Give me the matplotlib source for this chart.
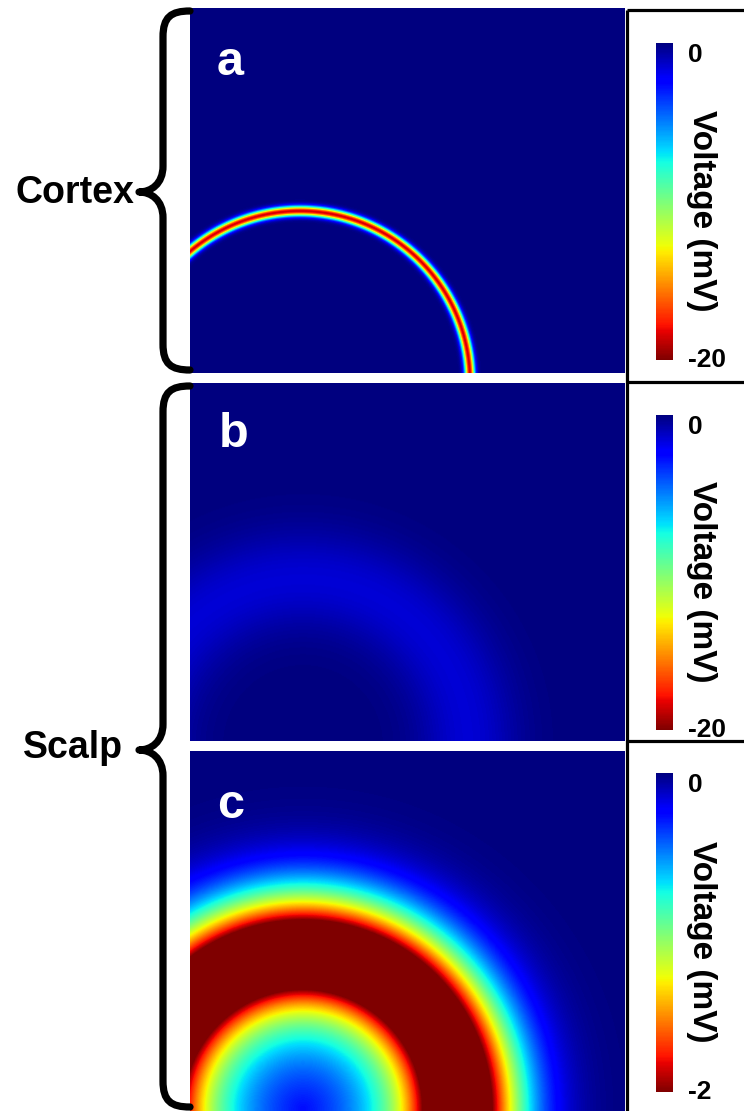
import numpy as np
import matplotlib
matplotlib.use("Agg")
import matplotlib.pyplot as plt
from matplotlib.path import Path
from matplotlib.patches import PathPatch

plt.rcParams['font.family'] = ['Liberation Sans', 'DejaVu Sans']
plt.rcParams['font.weight'] = 'bold'

# ---------------- data ----------------
panel_labels = ['a', 'b', 'c']
region_labels = ['Cortex', 'Scalp']
cbar_title = 'Voltage (mV)'
cbar_vmin = [-20, -20, -2]
cbar_vmax = [0, 0, 0]
cbar_ticklabels = [['-20', '0'], ['-20', '0'], ['-2', '0']]

# ring-shaped voltage field parameters (panel pixel units, origin bottom-left)
ring_center_x = [110, 113, 113]
ring_center_y = [-8, -4, 2]
ring_radius = [170, 165, 155]
ring_peak_mV = [18.5, 1.5, 3.1]
ring_inner_width = [3.5, 35, 48]
ring_outer_width = [3.5, 35, 56.6]
ring_inner_shape = ['gauss', 'gauss', 'lorentz']
ring_outer_power = [2.0, 2.0, 1.65]

# ---------------- layout (figure pixels, top-left origin) ----------------
W, H = 744, 1111
panel_px = [(190, 8, 625, 373), (190, 383, 625, 741), (190, 751, 625, 1111)]
cbar_px = [(656, 43, 673, 360), (656, 415, 673, 730), (656, 773, 673, 1092)]
label_pos = [(217, 75), (219, 447), (217, 818)]

fig = plt.figure(figsize=(W / 100, H / 100), dpi=100)


def ax_px(x0, y0, x1, y1):
    return fig.add_axes([x0 / W, 1 - y1 / H, (x1 - x0) / W, (y1 - y0) / H])


def field(i, w, h):
    x = np.arange(w) + 0.5
    y = np.arange(h) + 0.5
    X, Y = np.meshgrid(x, y)
    r = np.hypot(X - ring_center_x[i], Y - ring_center_y[i])
    d = r - ring_radius[i]
    A = ring_peak_mV[i]
    p = ring_outer_power[i]
    if p == 2.0:
        outer = A * np.exp(-d ** 2 / (2 * ring_outer_width[i] ** 2))
    else:
        outer = A * np.exp(-(np.abs(d) / ring_outer_width[i]) ** p)
    if ring_inner_shape[i] == 'lorentz':
        inner = A / (1 + (d / ring_inner_width[i]) ** 2)
    else:
        inner = A * np.exp(-d ** 2 / (2 * ring_inner_width[i] ** 2))
    return -np.where(d < 0, inner, outer)


for i in range(3):
    x0, y0, x1, y1 = panel_px[i]
    ax = ax_px(x0, y0, x1, y1)
    w, h = x1 - x0, y1 - y0
    V = field(i, w, h)
    im = ax.imshow(V, cmap='jet_r', vmin=cbar_vmin[i], vmax=cbar_vmax[i],
                   origin='lower', extent=(0, w, 0, h), aspect='auto',
                   interpolation='bilinear')
    ax.set_axis_off()

    cx0, cy0, cx1, cy1 = cbar_px[i]
    cax = ax_px(cx0, cy0, cx1, cy1)
    cb = fig.colorbar(im, cax=cax, ticks=[cbar_vmin[i], cbar_vmax[i]])
    cb.set_ticklabels(cbar_ticklabels[i])
    cb.outline.set_visible(False)
    cax.tick_params(length=0, pad=10.5, labelsize=19)
    tl = cax.get_yticklabels()
    tl[1].set_va('top')
    tl[0].set_va('center')

# ---------------- overlay: labels, braces, frames ----------------
ov = fig.add_axes([0, 0, 1, 1])
ov.set_xlim(0, W)
ov.set_ylim(H, 0)
ov.set_axis_off()
ov.patch.set_alpha(0)

for i in range(3):
    lx, ly = label_pos[i]
    ov.text(lx, ly, panel_labels[i], color='white', fontsize=35,
            fontweight='bold', ha='left', va='baseline')
    cx0, cy0, cx1, cy1 = cbar_px[i]
    ov.text(701, (cy0 + cy1) / 2 + 9, cbar_title, rotation=270, fontsize=24,
            fontweight='bold', ha='center', va='center')

ov.text(134, 203, region_labels[0], fontsize=27, fontweight='bold',
        ha='right', va='baseline')
ov.text(123, 758, region_labels[1], fontsize=27, fontweight='bold',
        ha='right', va='baseline')


def brace(xe, yt, yb, xs, xtip, ytip, c=26, lw=5.2):
    verts = [(xe, yt),
             (xs + 8, yt), (xs, yt + 6), (xs, yt + c),
             (xs, ytip - c),
             (xs, ytip - 8), (xtip + 12, ytip), (xtip, ytip),
             (xtip + 12, ytip), (xs, ytip + 8), (xs, ytip + c),
             (xs, yb - c),
             (xs, yb - 6), (xs + 8, yb), (xe, yb)]
    codes = [Path.MOVETO,
             Path.CURVE4, Path.CURVE4, Path.CURVE4,
             Path.LINETO,
             Path.CURVE4, Path.CURVE4, Path.CURVE4,
             Path.CURVE4, Path.CURVE4, Path.CURVE4,
             Path.LINETO,
             Path.CURVE4, Path.CURVE4, Path.CURVE4]
    ov.add_patch(PathPatch(Path(verts, codes), fill=False, lw=lw,
                           edgecolor='black', capstyle='round',
                           joinstyle='round'))


brace(190, 11, 370, 163, 139, 192)
brace(190, 386, 1107, 163, 139, 750)

frame_lw = 2.3
ov.plot([627, 627], [10, H], color='black', lw=frame_lw, solid_capstyle='butt')
for yy in [10, 382, 741]:
    ov.plot([627, W + 5], [yy, yy], color='black', lw=frame_lw,
            solid_capstyle='butt')

fig.savefig('out.png', dpi=100, facecolor='white')
